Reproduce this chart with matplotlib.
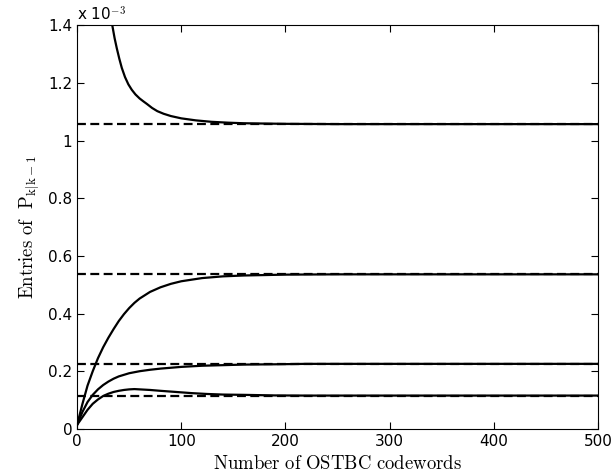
import matplotlib
matplotlib.use("Agg")
import matplotlib.pyplot as plt
import numpy as np

# data, in units of 1e-3
x_top = [28, 31, 34.3, 36, 38.1, 40.5, 42.9, 46, 49.2, 52.5, 56, 60, 63.6, 67, 72, 77, 83, 90, 100, 114, 129, 145, 160, 200, 250, 500]
y_top = [1.53, 1.455, 1.389, 1.355, 1.32, 1.284, 1.252, 1.22, 1.195, 1.176, 1.16, 1.146, 1.136, 1.127, 1.113, 1.102, 1.093, 1.085, 1.077, 1.07, 1.065, 1.062, 1.06, 1.058, 1.057, 1.057]

x_c2 = [0, 5, 10, 15, 20, 25, 30, 35, 40, 45, 50, 55, 60, 70, 80, 90, 100, 120, 140, 160, 200, 250, 500]
y_c2 = [0.014, 0.085, 0.15, 0.2, 0.245, 0.283, 0.316, 0.346, 0.374, 0.398, 0.419, 0.437, 0.452, 0.475, 0.491, 0.503, 0.512, 0.523, 0.529, 0.532, 0.535, 0.536, 0.536]

x_c3 = [0, 5, 10, 15, 20, 25, 30, 35, 40, 50, 60, 70, 80, 100, 120, 140, 160, 190, 220, 500]
y_c3 = [0.014, 0.058, 0.093, 0.118, 0.137, 0.152, 0.164, 0.174, 0.182, 0.193, 0.2, 0.205, 0.209, 0.215, 0.219, 0.221, 0.223, 0.224, 0.2255, 0.2255]

x_c4 = [0, 5, 10, 15, 20, 25, 30, 35, 40, 45, 50, 55, 60, 70, 80, 95, 110, 125, 140, 160, 190, 220, 500]
y_c4 = [0.014, 0.04, 0.066, 0.087, 0.102, 0.114, 0.122, 0.128, 0.132, 0.135, 0.137, 0.138, 0.137, 0.135, 0.132, 0.128, 0.124, 0.121, 0.119, 0.118, 0.116, 0.1155, 0.1155]

steady = [1.057, 0.536, 0.2255, 0.115]

xticks = [0, 100, 200, 300, 400, 500]
yticks = [0, 0.2, 0.4, 0.6, 0.8, 1.0, 1.2, 1.4]
ytick_labels = ["0", "0.2", "0.4", "0.6", "0.8", "1", "1.2", "1.4"]

plt.rcParams["mathtext.fontset"] = "cm"
tick_fontsize = 11
label_fontsize = 13.5
linewidth = 1.6

fig = plt.figure(figsize=(6.12, 4.76), dpi=100)
ax = fig.add_axes([0.126, 0.099, 0.851, 0.848])

for xs, ys in [(x_top, y_top), (x_c2, y_c2), (x_c3, y_c3), (x_c4, y_c4)]:
	ax.plot(xs, ys, color="black", linewidth=linewidth)

for s in steady:
	ax.axhline(y=s, color="black", linestyle=(0, (4, 2)), linewidth=linewidth)

ax.set_xlim(0, 500)
ax.set_ylim(0, 1.4)
ax.set_xticks(xticks)
ax.set_yticks(yticks)
ax.set_yticklabels(ytick_labels)
ax.tick_params(direction="in", top=True, right=True, length=5,
	labelsize=tick_fontsize, width=0.8)
for sp in ax.spines.values():
	sp.set_linewidth(0.8)

ax.set_xlabel(r"$\mathrm{Number\ of\ OSTBC\ codewords}$", fontsize=label_fontsize)
ax.set_ylabel(r"$\mathrm{Entries\ of\ \ P_{k|k-1}}$", fontsize=label_fontsize)

ax.text(0.0, 1.005, r"x 10$^{-3}$", transform=ax.transAxes,
	fontsize=tick_fontsize, ha="left", va="bottom")

plt.savefig("out.png", dpi=100)
